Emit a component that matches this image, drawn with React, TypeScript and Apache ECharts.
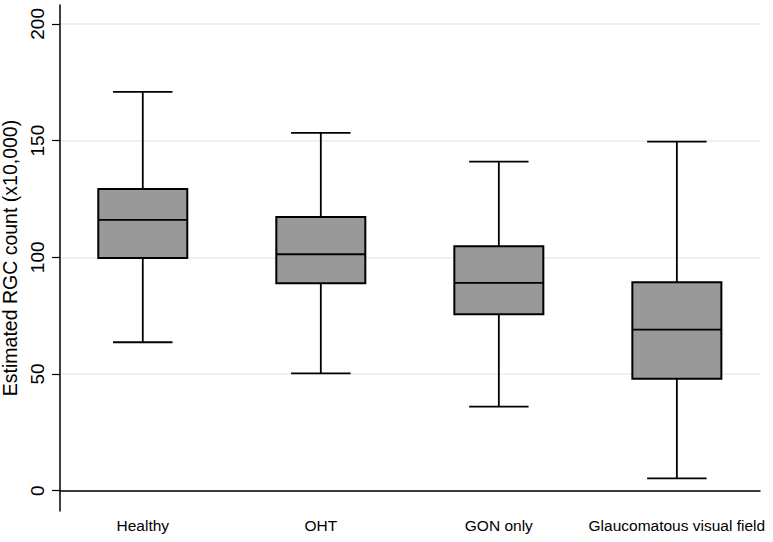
import React, { useEffect, useRef } from "react";
import * as echarts from "echarts";

const categories = ["Healthy", "OHT", "GON only", "Glaucomatous visual field"];
const whiskerLow = [63.6, 50.3, 36.0, 5.3];
const q1 = [99.7, 88.9, 75.6, 48.0];
const median = [116.0, 101.3, 89.0, 69.0];
const q3 = [129.3, 117.3, 104.7, 89.3];
const whiskerHigh = [170.9, 153.3, 141.0, 149.6];
const yTicks = [0, 50, 100, 150, 200];

export default function App() {
  const ref = useRef<HTMLDivElement>(null);
  useEffect(() => {
    document.body.style.margin = "0";
    const chart = echarts.init(ref.current!, null, { renderer: "svg" });
    const data = categories.map((_, i) => [
      i + 1,
      whiskerLow[i],
      q1[i],
      median[i],
      q3[i],
      whiskerHigh[i],
    ]);
    const font = "'Liberation Sans', Arial, Helvetica, sans-serif";
    chart.setOption({
      animation: false,
      backgroundColor: "#ffffff",
      grid: {
        left: 60,
        right: 13,
        top: 5,
        bottom: 31,
        containLabel: false,
        outerBoundsMode: "none",
      },
      xAxis: {
        type: "value",
        min: 0.535,
        max: 4.467,
        axisLine: { show: true, lineStyle: { color: "#000", width: 1.5 } },
        axisTick: { show: false },
        splitLine: { show: false },
        axisLabel: {
          customValues: [1, 2, 3, 4],
          formatter: (v: number) => categories[Math.round(v) - 1] ?? "",
          color: "#000",
          fontSize: 15.5,
          fontFamily: font,
          margin: 6,
          showMinLabel: true,
          showMaxLabel: true,
        },
      },
      yAxis: {
        type: "value",
        min: -8.7,
        max: 208.1,
        name: "Estimated RGC count (x10,000)",
        nameLocation: "middle",
        nameGap: 40,
        nameRotate: 90,
        nameTextStyle: { color: "#000", fontSize: 19.5, fontFamily: font },
        axisLine: { show: true, lineStyle: { color: "#000", width: 1.5 } },
        axisTick: {
          show: true,
          customValues: yTicks,
          length: 8,
          lineStyle: { color: "#000", width: 1.2 },
        },
        axisLabel: {
          customValues: yTicks,
          rotate: 90,
          color: "#000",
          fontSize: 19,
          fontFamily: font,
          margin: 13,
        },
        splitLine: { show: true, lineStyle: { color: "#ebebeb", width: 1.5 } },
      },
      series: [
        {
          type: "custom",
          data,
          renderItem: (params: any, api: any) => {
            const x = api.value(0);
            const pLow = api.coord([x, api.value(1)]);
            const pQ1 = api.coord([x, api.value(2)]);
            const pMed = api.coord([x, api.value(3)]);
            const pQ3 = api.coord([x, api.value(4)]);
            const pHigh = api.coord([x, api.value(5)]);
            const band = api.size([1, 0])[0];
            const boxW = band * 0.5;
            const capW = band * 0.334;
            const cx = pMed[0];
            const lineStyle = { stroke: "#000", lineWidth: 1.8, fill: null };
            return {
              type: "group",
              children: [
                {
                  type: "line",
                  shape: { x1: cx, y1: pQ3[1], x2: cx, y2: pHigh[1] },
                  style: lineStyle,
                },
                {
                  type: "line",
                  shape: { x1: cx, y1: pQ1[1], x2: cx, y2: pLow[1] },
                  style: lineStyle,
                },
                {
                  type: "line",
                  shape: { x1: cx - capW / 2, y1: pHigh[1], x2: cx + capW / 2, y2: pHigh[1] },
                  style: lineStyle,
                },
                {
                  type: "line",
                  shape: { x1: cx - capW / 2, y1: pLow[1], x2: cx + capW / 2, y2: pLow[1] },
                  style: lineStyle,
                },
                {
                  type: "rect",
                  shape: { x: cx - boxW / 2, y: pQ3[1], width: boxW, height: pQ1[1] - pQ3[1] },
                  style: { fill: "#999999", stroke: "#000", lineWidth: 2 },
                },
                {
                  type: "line",
                  shape: { x1: cx - boxW / 2, y1: pMed[1], x2: cx + boxW / 2, y2: pMed[1] },
                  style: lineStyle,
                },
              ],
            };
          },
        },
      ],
    });
    return () => chart.dispose();
  }, []);
  return (
    <div
      ref={ref}
      style={{ position: "fixed", left: 0, top: 0, width: 773, height: 542 }}
    />
  );
}
